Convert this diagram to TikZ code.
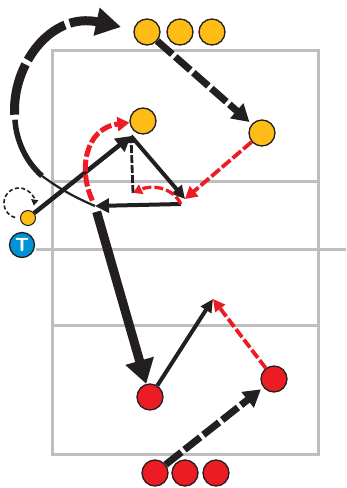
\documentclass[tikz,border=0pt]{standalone}
\usepackage{tikz}
\usetikzlibrary{arrows.meta}
\usepackage{xcolor}
\definecolor{courtgray}{RGB}{188,190,192}
\definecolor{ballyellow}{RGB}{253,188,22}
\definecolor{teamred}{RGB}{237,28,36}
\definecolor{coachblue}{RGB}{0,146,214}
\definecolor{ink}{RGB}{35,31,32}

\begin{document}
\begin{tikzpicture}[x=1pt, y=-1pt, court/.style={draw=courtgray,line width=3pt}, yp/.style={circle,draw=ink,line width=1.3pt,fill=ballyellow,minimum size=26pt,inner sep=0pt}, rp/.style={yp,fill=teamred}, hit/.style={draw=ink,line cap=butt}, run/.style={hit,dash pattern=on 20pt off 4pt}, redrun/.style={draw=teamred,line cap=butt,dash pattern=on 11pt off 3pt}]
\useasboundingbox (0,0) rectangle (346,488);
\draw[court] (52,50) rectangle (318,454);
\draw[court] (52,181) -- (318,181);
\draw[court] (52,325) -- (318,325);
\draw[court] (36,249) -- (346,249);
\node[yp] (y1) at (147,32) {};
\node[yp] (y2) at (180,32) {};
\node[yp] (y3) at (212,32) {};
\node[yp] (front) at (143,121) {};
\node[yp] (right) at (262,133) {};
\node[yp,minimum size=15pt,line width=1pt] (setter) at (28,218) {};
\node[circle,draw=ink,line width=1.3pt,fill=coachblue,minimum size=25pt,inner sep=0pt,text=white,font=\sffamily\bfseries\fontsize{19}{19}\selectfont] (coach) at (22,245) {T};
\node[rp] (r1) at (150,397) {};
\node[rp] (r2) at (274,379) {};
\node[rp] (q1) at (155,473) {};
\node[rp] (q2) at (185,473) {};
\node[rp] (q3) at (216,473) {};
\coordinate (s) at (95,206);
\coordinate (arc0) at (42,176);
\coordinate (arc1) at (14.8,117.2);
\coordinate (tip) at (121,27);
\coordinate (f) at (131,136);
\coordinate (b) at (185,199);
\coordinate (c) at (181,204);
\coordinate (k) at (133,193);
\coordinate (a) at (213,299);
\coordinate (lp) at (15.1,217.5);
\draw[hit,line width=2.2pt] (s) to[bend left=6] (arc0);
\draw[hit,line width=5.5pt,shorten >=2.5pt] (arc0) .. controls (24.9,160.7) and (16.1,139.2) .. (arc1);
\draw[hit,line width=9pt,dash pattern=on 52pt off 5pt,-{Triangle[length=25pt,width=27pt]},shorten <=2.5pt] (arc1) .. controls (11.9,65.8) and (50.3,11.6) .. (tip);
\draw[run,line width=7pt,-{Triangle[length=17pt,width=19pt]},shorten >=3pt] (y1) -- (right);
\draw[redrun,line width=3.8pt,-{Triangle[length=12pt,width=13pt]}] (right) -- (b);
\draw[hit,line width=4.5pt,-{Triangle[length=15pt,width=16pt]}] (setter) -- (f);
\draw[hit,line width=4pt,-{Triangle[length=13pt,width=13pt]}] (f) -- (b);
\draw[hit,line width=2.8pt,dash pattern=on 8pt off 2pt,-{Triangle[length=7pt,width=8pt]}] (k) -- (f);
\draw[hit,line width=4pt,-{Triangle[length=14pt,width=14pt]}] (c) -- (s);
\draw[redrun,line width=3.3pt,dash pattern=on 9pt off 3pt,-{Triangle[length=9pt,width=10pt]}] (c) .. controls (172,186) and (150,185) .. (k);
\draw[redrun,line width=5pt,dash pattern=on 12pt off 3pt,-{Triangle[length=12pt,width=14pt]},shorten <=6pt] (s) .. controls (78,170) and (85,128) .. (front);
\draw[hit,line width=9pt,-{Triangle[length=24pt,width=28pt]},shorten <=6pt] (s) -- (r1);
\draw[hit,line width=4pt,-{Triangle[length=13pt,width=12pt]}] (r1) -- (a);
\draw[redrun,line width=3.8pt,dash pattern=on 10pt off 3pt,-{Triangle[length=12pt,width=12pt]}] (r2) -- (a);
\draw[run,line width=7pt,-{Triangle[length=17pt,width=19pt]},shorten >=3pt] (q1) -- (r2);
\draw[hit,line width=1.6pt,dash pattern=on 4pt off 2.5pt,-{Triangle[length=6pt,width=7pt]}] (lp) arc[start angle=-255,end angle=10,radius=15];
\end{tikzpicture}
\end{document}
